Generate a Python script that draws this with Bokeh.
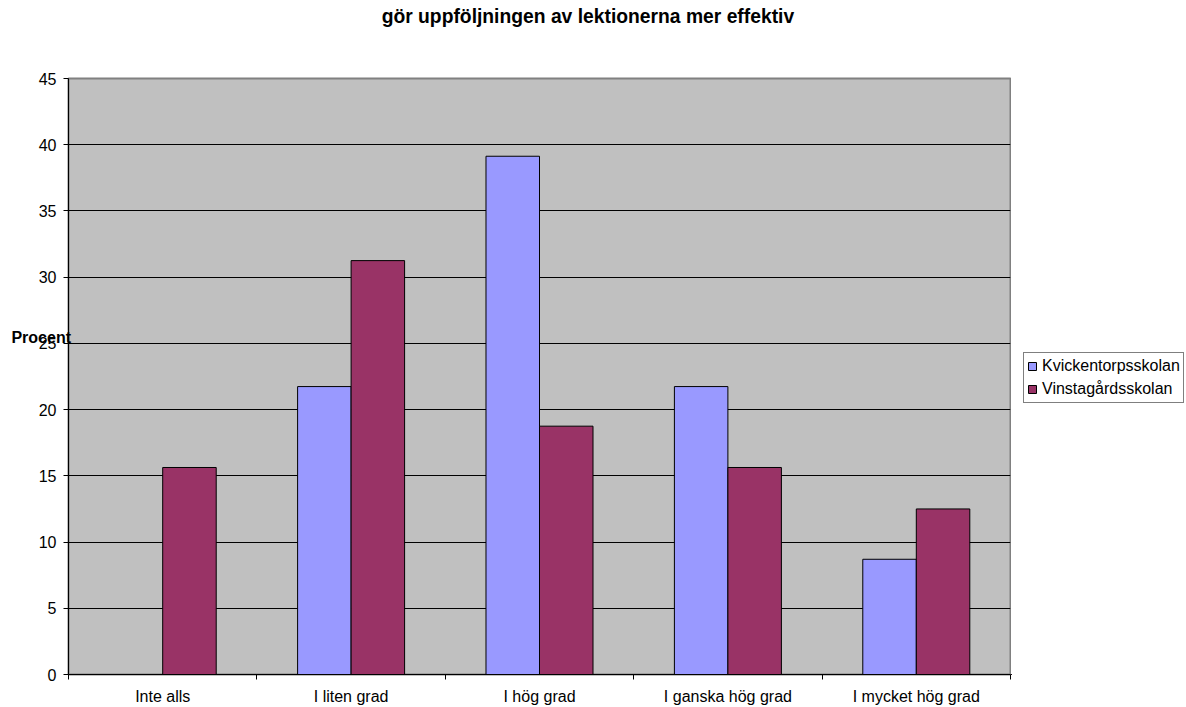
from bokeh.plotting import figure
from bokeh.layouts import row
from bokeh.models import Range1d, FixedTicker, Legend, LegendItem, Label, ColumnDataSource
from bokeh.embed import file_html
from bokeh.resources import INLINE

categories = ["Inte alls", "I liten grad", "I hög grad", "I ganska hög grad", "I mycket hög grad"]
series_names = ["Kvickentorpsskolan", "Vinstagårdsskolan"]
kvick = [0, 21.74, 39.13, 21.74, 8.70]
vinsta = [15.63, 31.25, 18.75, 15.63, 12.5]
y_ticks = [0, 5, 10, 15, 20, 25, 30, 35, 40, 45]
title_text = "gör uppföljningen av lektionerna mer effektiv"
y_title = "Procent"

FONT = "Liberation Sans"
colors = ["#9999FF", "#993366"]

n = len(categories)
centers = [i + 0.5 for i in range(n)]
bw = 0.284

p = figure(width=1011, height=707, output_backend="svg", toolbar_location=None,
           x_range=Range1d(0, n), y_range=Range1d(0, 45),
           min_border_left=68, min_border_right=1, min_border_top=78, min_border_bottom=32)
p.background_fill_color = "#C0C0C0"
p.border_fill_color = "white"
p.outline_line_color = "#808080"
p.outline_line_width = 2

src1 = ColumnDataSource(dict(x=[c - bw / 2 for c in centers], top=kvick))
src2 = ColumnDataSource(dict(x=[c + bw / 2 for c in centers], top=vinsta))
r1 = p.vbar(x="x", top="top", width=bw, bottom=0, source=src1,
            fill_color=colors[0], line_color="black", line_width=1)
r2 = p.vbar(x="x", top="top", width=bw, bottom=0, source=src2,
            fill_color=colors[1], line_color="black", line_width=1)

# grid and axes
p.xgrid.visible = False
p.ygrid.grid_line_color = "black"
p.ygrid.grid_line_width = 1
p.ygrid.ticker = FixedTicker(ticks=y_ticks)

ya = p.yaxis[0]
ya.ticker = FixedTicker(ticks=y_ticks)
ya.major_tick_out = 5
ya.major_tick_in = 0
ya.minor_tick_line_color = None
ya.axis_line_color = "black"
ya.major_tick_line_color = "black"
ya.major_label_text_font = FONT
ya.major_label_text_font_size = "16px"
ya.major_label_text_color = "black"
ya.major_label_standoff = 7

xa = p.xaxis[0]
xa.ticker = FixedTicker(ticks=centers, minor_ticks=list(range(n + 1)))
xa.major_label_overrides = {c: lab for c, lab in zip(centers, categories)}
xa.major_tick_out = 0
xa.major_tick_in = 0
xa.major_tick_line_color = None
xa.minor_tick_out = 5
xa.minor_tick_in = 0
xa.minor_tick_line_color = "black"
xa.axis_line_color = "black"
xa.major_label_text_font = FONT
xa.major_label_text_font_size = "16px"
xa.major_label_text_color = "black"
xa.major_label_standoff = 8

# title and y title (placed in a side panel so they are not clipped to the frame)
p.add_layout(Label(x=2.757, y=49.71, text=title_text, text_align="center",
                   text_baseline="alphabetic", text_font=FONT, text_font_size="19.3px",
                   text_font_style="bold", text_color="black"), "above")
p.add_layout(Label(x=-0.303, y=25.45, text=y_title, text_align="left",
                   text_baseline="alphabetic", text_font=FONT, text_font_size="16px",
                   text_font_style="bold", text_color="black"), "above")

# legend in its own panel to the right (its renderers lie outside its view)
lg = figure(width=175, height=707, output_backend="svg", toolbar_location=None,
            x_range=Range1d(100, 101), y_range=Range1d(100, 101),
            x_axis_location=None, y_axis_location=None, min_border=0)
lg.outline_line_color = None
lg.grid.visible = False
lg.background_fill_color = "white"
lg.border_fill_color = "white"
e1 = lg.vbar(x="x", top="top", width=bw, bottom=0, source=src1,
             fill_color=colors[0], line_color="black", line_width=1)
e2 = lg.vbar(x="x", top="top", width=bw, bottom=0, source=src2,
             fill_color=colors[1], line_color="black", line_width=1)
legend = Legend(items=[LegendItem(label=series_names[0], renderers=[e1]),
                       LegendItem(label=series_names[1], renderers=[e2])],
                location=(12, 271), padding=3, spacing=3, margin=0,
                glyph_width=10, glyph_height=10, label_standoff=5,
                label_height=20,
                label_text_font=FONT, label_text_font_size="16px",
                label_text_color="black", border_line_color="black",
                border_line_width=1, background_fill_color="white",
                background_fill_alpha=1)
lg.add_layout(legend)

layout = row(p, lg, spacing=0)
open("out.html", "w").write(file_html(layout, INLINE))
